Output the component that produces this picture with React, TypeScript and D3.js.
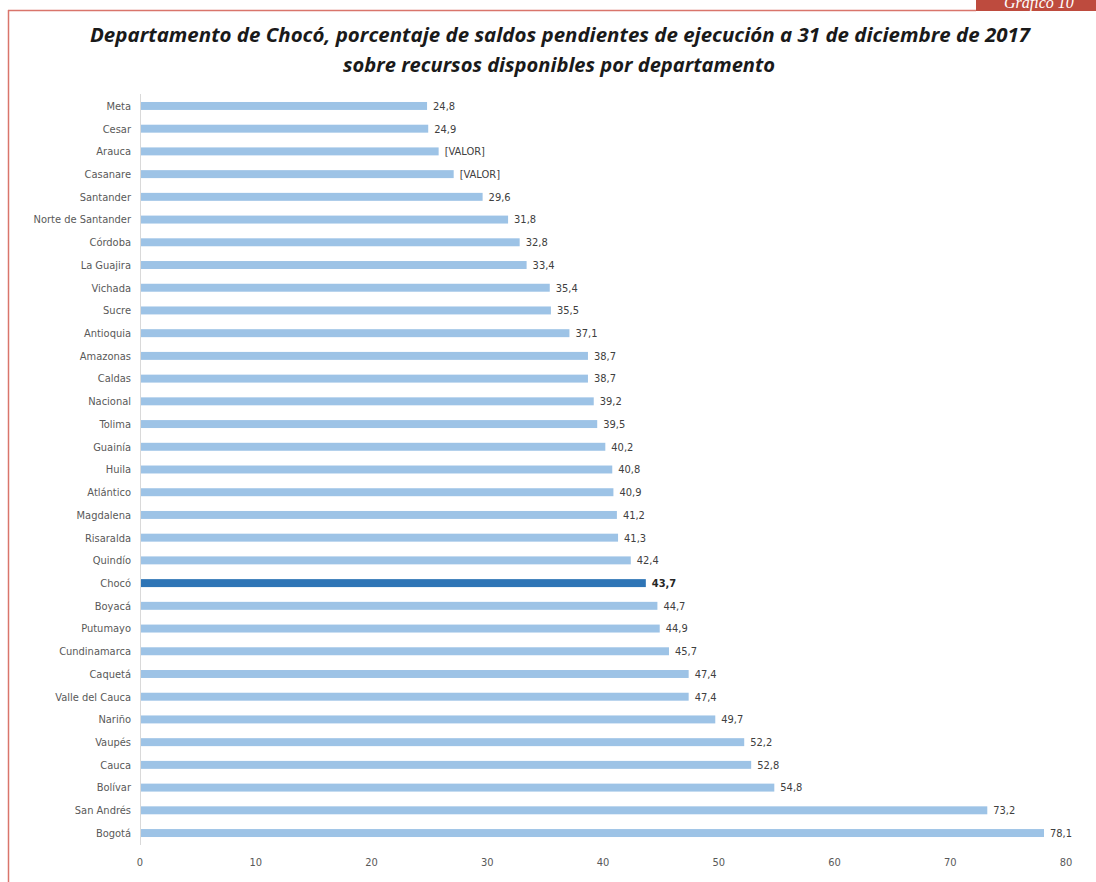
import React from "react";
import * as d3 from "d3";

const departments = [
  "Meta", "Cesar", "Arauca", "Casanare", "Santander", "Norte de Santander", "Córdoba",
  "La Guajira", "Vichada", "Sucre", "Antioquia", "Amazonas", "Caldas", "Nacional",
  "Tolima", "Guainía", "Huila", "Atlántico", "Magdalena", "Risaralda", "Quindío",
  "Chocó", "Boyacá", "Putumayo", "Cundinamarca", "Caquetá", "Valle del Cauca",
  "Nariño", "Vaupés", "Cauca", "Bolívar", "San Andrés", "Bogotá",
];

const values = [
  24.8, 24.9, 25.8, 27.1, 29.6, 31.8, 32.8, 33.4, 35.4, 35.5, 37.1, 38.7, 38.7, 39.2,
  39.5, 40.2, 40.8, 40.9, 41.2, 41.3, 42.4, 43.7, 44.7, 44.9, 45.7, 47.4, 47.4, 49.7,
  52.2, 52.8, 54.8, 73.2, 78.1,
];

// labels that the source shows as a placeholder instead of the number
const valueLabels = values.map((v, i) =>
  departments[i] === "Arauca" || departments[i] === "Casanare"
    ? "[VALOR]"
    : v.toFixed(1).replace(".", ",")
);

const xTicks = [0, 10, 20, 30, 40, 50, 60, 70, 80];
const highlight = "Chocó";

const W = 1096;
const H = 882;
const font = "'Liberation Sans Narrow', 'DejaVu Sans Condensed', sans-serif";

export default function App() {
  const x = d3.scaleLinear().domain([0, 80]).range([140, 1066]);
  const y = d3
    .scaleBand<string>()
    .domain(departments)
    .range([94.6, 844.4])
    .paddingInner(0.65)
    .paddingOuter(0.325);

  return (
    <svg
      width={W}
      height={H}
      style={{ position: "absolute", left: 0, top: 0, background: "#fff" }}
    >
      {/* frame */}
      <line x1={8.5} y1={10} x2={8.5} y2={H} stroke="#d9756b" strokeWidth={1.5} />
      <line x1={8} y1={10.5} x2={976} y2={10.5} stroke="#d9756b" strokeWidth={1.5} />
      <rect x={976} y={0} width={120} height={11} fill="#be4b3e" />
      <text
        x={1004}
        y={8}
        fill="#fff"
        fontFamily="'Liberation Serif', serif"
        fontStyle="italic"
        fontSize={16}
      >
        Gráfico 10
      </text>

      {/* title */}
      <g fontFamily="'Open Sans', sans-serif" fontWeight="bold" fontStyle="italic" fill="#1a1a1a">
        <text x={560} y={42} textAnchor="middle" fontSize={19} textLength={940} lengthAdjust="spacingAndGlyphs">
          Departamento de Chocó, porcentaje de saldos pendientes de ejecución a 31 de diciembre de 2017
        </text>
        <text x={559} y={72} textAnchor="middle" fontSize={19} textLength={432} lengthAdjust="spacingAndGlyphs">
          sobre recursos disponibles por departamento
        </text>
      </g>

      {/* y axis line */}
      <line x1={140.5} y1={94} x2={140.5} y2={845} stroke="#d9d9d9" strokeWidth={1} />

      {departments.map((d, i) => {
        const yy = y(d)!;
        const bw = y.bandwidth();
        const isHi = d === highlight;
        return (
          <g key={d}>
            <rect
              x={x(0) + 1}
              y={yy}
              width={x(values[i]) - x(0) - 1}
              height={bw}
              fill={isHi ? "#2e75b6" : "#9dc3e6"}
            />
            <text
              x={131}
              y={yy + bw / 2}
              dy="0.35em"
              textAnchor="end"
              fontFamily={font}
              fontSize={11}
              fill="#595959"
            >
              {d}
            </text>
            <text
              x={x(values[i]) + 6}
              y={yy + bw / 2}
              dy="0.35em"
              fontFamily={font}
              fontSize={11}
              fontWeight={isHi ? "bold" : "normal"}
              fill={isHi ? "#262626" : "#404040"}
            >
              {valueLabels[i]}
            </text>
          </g>
        );
      })}

      {xTicks.map((t) => (
        <text
          key={t}
          x={x(t)}
          y={866}
          textAnchor="middle"
          fontFamily={font}
          fontSize={11}
          fill="#595959"
        >
          {t}
        </text>
      ))}
    </svg>
  );
}
